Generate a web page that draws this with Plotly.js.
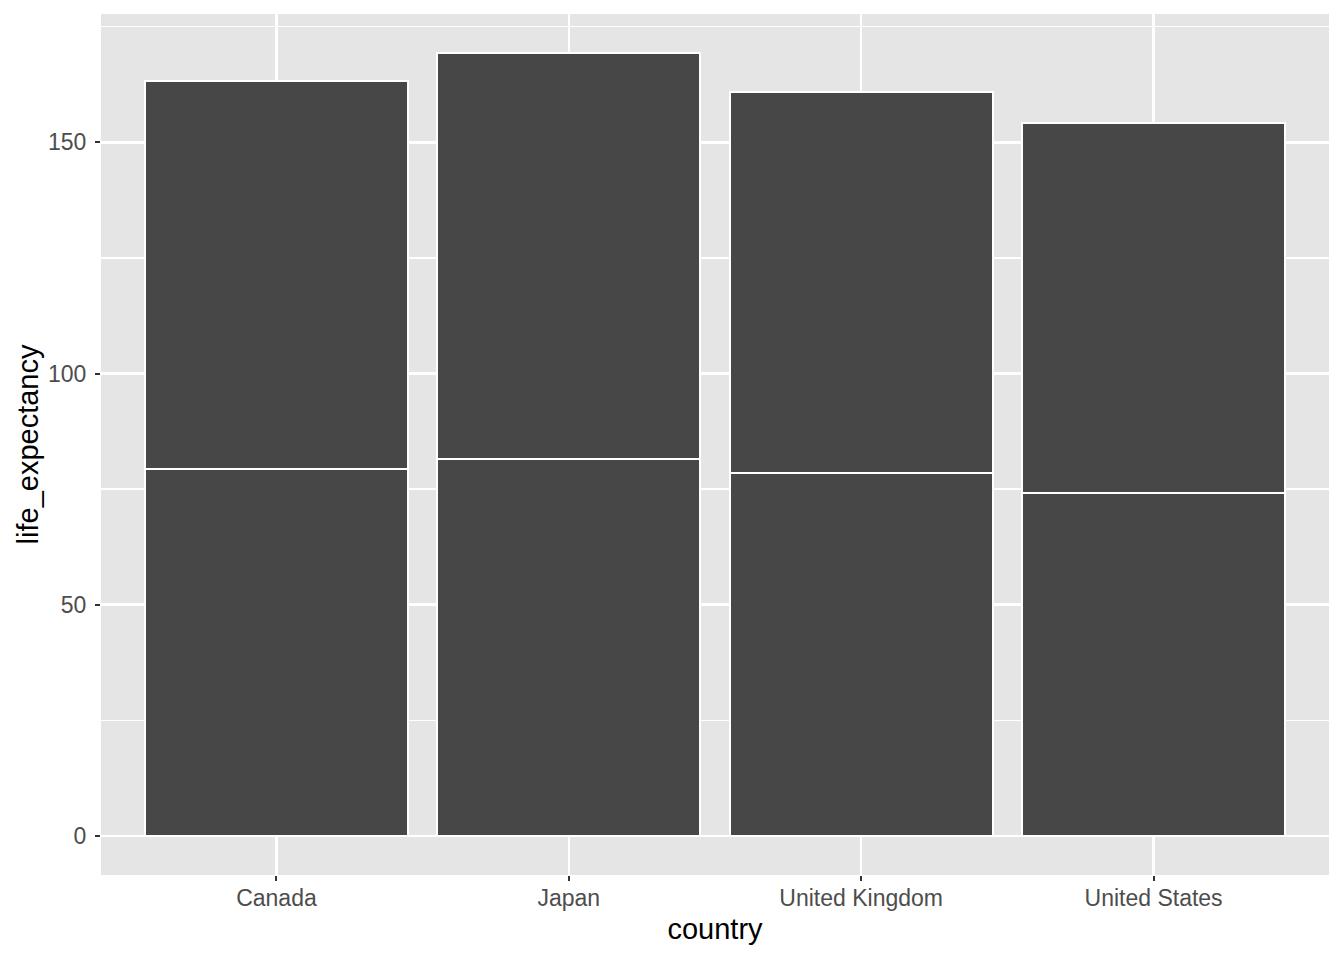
<!DOCTYPE html>
<html>
<head>
<meta charset="utf-8">
<script src="https://cdn.plot.ly/plotly-3.0.1.min.js"></script>
<style>html,body{margin:0;padding:0;background:#fff;}#chart{width:1344px;height:960px;}</style>
</head>
<body>
<div id="chart"></div>
<script>
const countries = ["Canada", "Japan", "United Kingdom", "United States"];
const lifeExpLower = [79.4, 81.6, 78.4, 74.2];
const lifeExpUpper = [83.8, 87.7, 82.4, 79.9];
const yTicks = [0, 50, 100, 150];

const barStyle = {
  type: "bar",
  marker: {color: "#474747", line: {color: "#FFFFFF", width: 2}},
  width: 0.9,
  hoverinfo: "x+y",
  showlegend: false
};

const traces = [
  Object.assign({}, barStyle, {x: countries, y: lifeExpLower, name: "lower"}),
  Object.assign({}, barStyle, {x: countries, y: lifeExpUpper, name: "upper"})
];

const total = countries.map((c, i) => lifeExpLower[i] + lifeExpUpper[i]);
const ymax = Math.max(...total);
const pad = ymax * 0.05;

const layout = {
  width: 1344, height: 960,
  barmode: "stack",
  paper_bgcolor: "#FFFFFF",
  plot_bgcolor: "#E5E5E5",
  margin: {l: 101, r: 15, t: 14, b: 85},
  font: {family: "Liberation Sans, Arial, sans-serif"},
  xaxis: {
    type: "category",
    range: [-0.6, 3.6],
    showgrid: true, gridcolor: "#FFFFFF", gridwidth: 2.6,
    zeroline: false, showline: false,
    ticks: "outside", ticklen: 5, tickwidth: 2, tickcolor: "#333333",
    ticklabelstandoff: -3,
    tickfont: {size: 23, color: "#4D4D4D"},
    title: {text: "country", font: {size: 29, color: "#000000"}, standoff: 9}
  },
  yaxis: {
    range: [-pad, ymax + pad],
    tickvals: yTicks,
    ticktext: yTicks.map(String),
    showgrid: true, gridcolor: "#FFFFFF", gridwidth: 2.6,
    minor: {dtick: 25, tick0: 0, showgrid: true, gridcolor: "#FFFFFF", gridwidth: 1.3, ticks: ""},
    zeroline: false, showline: false,
    ticks: "outside", ticklen: 5, tickwidth: 2, tickcolor: "#333333",
    ticklabelstandoff: 4,
    tickfont: {size: 23, color: "#4D4D4D"},
    title: {text: "life_expectancy", font: {size: 29, color: "#000000"}, standoff: 0}
  }
};

Plotly.newPlot("chart", traces, layout, {displayModeBar: false, staticPlot: true});
</script>
</body>
</html>
